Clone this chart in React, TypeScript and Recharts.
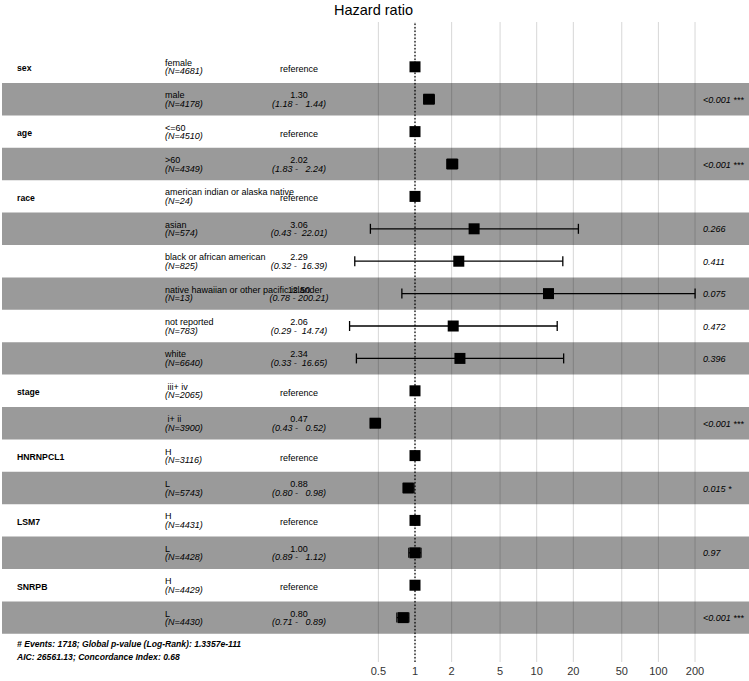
import { ScatterChart, Scatter, XAxis, YAxis, ErrorBar, ReferenceArea, ReferenceLine } from "recharts";

// Forest plot (Cox model hazard ratios), one entry per table row.
const variables = ["sex", "", "age", "", "race", "", "", "", "", "", "stage", "", "HNRNPCL1", "", "LSM7", "", "SNRPB", ""];
const levels = [
  "female", "male", "<=60", ">60",
  "american indian or alaska native", "asian", "black or african american",
  "native hawaiian or other pacific islander", "not reported", "white",
  " iii+ iv", " i+ ii", "H", "L", "H", "L", "H", "L",
];
const counts = [4681, 4178, 4510, 4349, 24, 574, 825, 13, 783, 6640, 2065, 3900, 3116, 5743, 4431, 4428, 4429, 4430];
const hazard = [1, 1.3, 1, 2.02, 1, 3.06, 2.29, 12.5, 2.06, 2.34, 1, 0.47, 1, 0.88, 1, 1.0, 1, 0.8];
const lower = [null, 1.18, null, 1.83, null, 0.43, 0.32, 0.78, 0.29, 0.33, null, 0.43, null, 0.8, null, 0.89, null, 0.71];
const upper = [null, 1.44, null, 2.24, null, 22.01, 16.39, 200.21, 14.74, 16.65, null, 0.52, null, 0.98, null, 1.12, null, 0.89];
const pValues = ["", "<0.001 ***", "", "<0.001 ***", "", "0.266", "0.411", "0.075", "0.472", "0.396", "", "<0.001 ***", "", "0.015 *", "", "0.97", "", "<0.001 ***"];
const tickValues = [0.5, 1, 2, 5, 10, 20, 50, 100, 200];
const tickLabels = ["0.5", "1", "2", "5", "10", "20", "50", "100", "200"];

const W = 749;
const H = 681;
const PX_PER_DECADE = 121.7;
const ONE_PX = 415; // pixel column of HR = 1
const xMin = -ONE_PX / PX_PER_DECADE;
const xMax = (W - ONE_PX) / PX_PER_DECADE;
const yTop = -1.383;
const yBottom = 18.37;

const FONT = "'Liberation Sans', Arial, Helvetica, sans-serif";

const rows = levels.map((lvl, i) => {
  const x = Math.log10(hazard[i]);
  const lo = lower[i];
  const hi = upper[i];
  return {
    row: i,
    x,
    y: i,
    errX: lo != null && hi != null ? [x - Math.log10(lo), Math.log10(hi) - x] : [0, 0],
  };
});

const labelRows = rows.map((r) => ({ row: r.row, x: 0, y: r.y }));

const Square = (props: any) => {
  const { cx, cy } = props;
  if (cx == null || cy == null) return null;
  return <rect x={cx - 5.5} y={cy - 5.5} width={11} height={11} fill="#000" />;
};

const RowText = (props: any) => {
  const { cy } = props;
  const i = props.payload?.row ?? props.row;
  if (cy == null || i == null) return null;
  const lo = lower[i];
  const hi = upper[i];
  const isRef = lo == null;
  const ci = isRef ? "" : `(${lo!.toFixed(2)} - ${hi!.toFixed(2).padStart(6, " ")})`;
  return (
    <g style={{ fontFamily: FONT, whiteSpace: "pre" }}>
      {variables[i] && (
        <text x={17} y={cy + 4.5} fontSize={8.7} fontWeight="bold" fill="#000">
          {variables[i]}
        </text>
      )}
      <text x={165} y={cy - 1} fontSize={9} fill="#000" xmlSpace="preserve">
        {levels[i]}
      </text>
      <text x={165} y={cy + 7.5} fontSize={9} fontStyle="italic" fill="#000">
        {`(N=${counts[i]})`}
      </text>
      {isRef ? (
        <text x={299} y={cy + 5} fontSize={9} textAnchor="middle" fill="#000">
          reference
        </text>
      ) : (
        <>
          <text x={299} y={cy - 1} fontSize={9} textAnchor="middle" fill="#000">
            {hazard[i].toFixed(2)}
          </text>
          <text x={299} y={cy + 7.5} fontSize={9} fontStyle="italic" textAnchor="middle" fill="#000" xmlSpace="preserve">
            {ci}
          </text>
        </>
      )}
      {pValues[i] && (
        <text x={703} y={cy + 3.5} fontSize={9} fontStyle="italic" fill="#000">
          {pValues[i]}
        </text>
      )}
    </g>
  );
};

export default function App() {
  return (
    <div style={{ position: "absolute", left: 0, top: 0, width: W, height: H, background: "#fff" }}>
      <ScatterChart width={W} height={H} margin={{ top: 22, right: 0, bottom: 0, left: 0 }}>
        <XAxis
          type="number"
          dataKey="x"
          domain={[xMin, xMax]}
          allowDataOverflow
          ticks={tickValues.map((t) => Math.log10(t))}
          tickFormatter={(v: number) => tickLabels[tickValues.findIndex((t) => Math.abs(Math.log10(t) - v) < 1e-6)] ?? ""}
          interval={0}
          axisLine={false}
          tickLine={false}
          tickSize={0}
          tickMargin={5}
          height={19}
          tick={{ fontSize: 11, fill: "#333", fontFamily: FONT }}
        />
        <YAxis type="number" dataKey="y" domain={[yTop, yBottom]} reversed hide allowDataOverflow />
        {rows
          .filter((r) => r.row % 2 === 1)
          .map((r) => (
            <ReferenceArea
              key={`band-${r.row}`}
              x1={xMin + 2 / PX_PER_DECADE}
              x2={xMax}
              y1={r.y - 0.5}
              y2={r.y + 0.5}
              fill="#9a9a9a"
              fillOpacity={1}
              stroke="none"
              ifOverflow="visible"
            />
          ))}
        {tickValues.map((t) => (
          <ReferenceLine key={`grid-${t}`} x={Math.log10(t)} stroke="rgba(0,0,0,0.16)" strokeWidth={1} />
        ))}
        <ReferenceLine x={0} stroke="#000" strokeWidth={1.2} strokeDasharray="1.5 2" />
        <Scatter data={labelRows} shape={RowText} isAnimationActive={false} />
        <Scatter data={rows} shape={Square} isAnimationActive={false}>
          <ErrorBar dataKey="errX" direction="x" width={5} stroke="#000" strokeWidth={1.3} />
        </Scatter>
      </ScatterChart>
      <svg width={W} height={H} style={{ position: "absolute", left: 0, top: 0, pointerEvents: "none" }}>
        <text x={373.5} y={15} fontSize={14.5} textAnchor="middle" fill="#000" style={{ fontFamily: FONT }}>
          Hazard ratio
        </text>
        <text x={17} y={646.5} fontSize={8.6} fontStyle="italic" fontWeight="bold" fill="#000" style={{ fontFamily: FONT }}>
          # Events: 1718; Global p-value (Log-Rank): 1.3357e-111
        </text>
        <text x={17} y={659.5} fontSize={8.6} fontStyle="italic" fontWeight="bold" fill="#000" style={{ fontFamily: FONT }}>
          AIC: 26561.13; Concordance Index: 0.68
        </text>
      </svg>
    </div>
  );
}
